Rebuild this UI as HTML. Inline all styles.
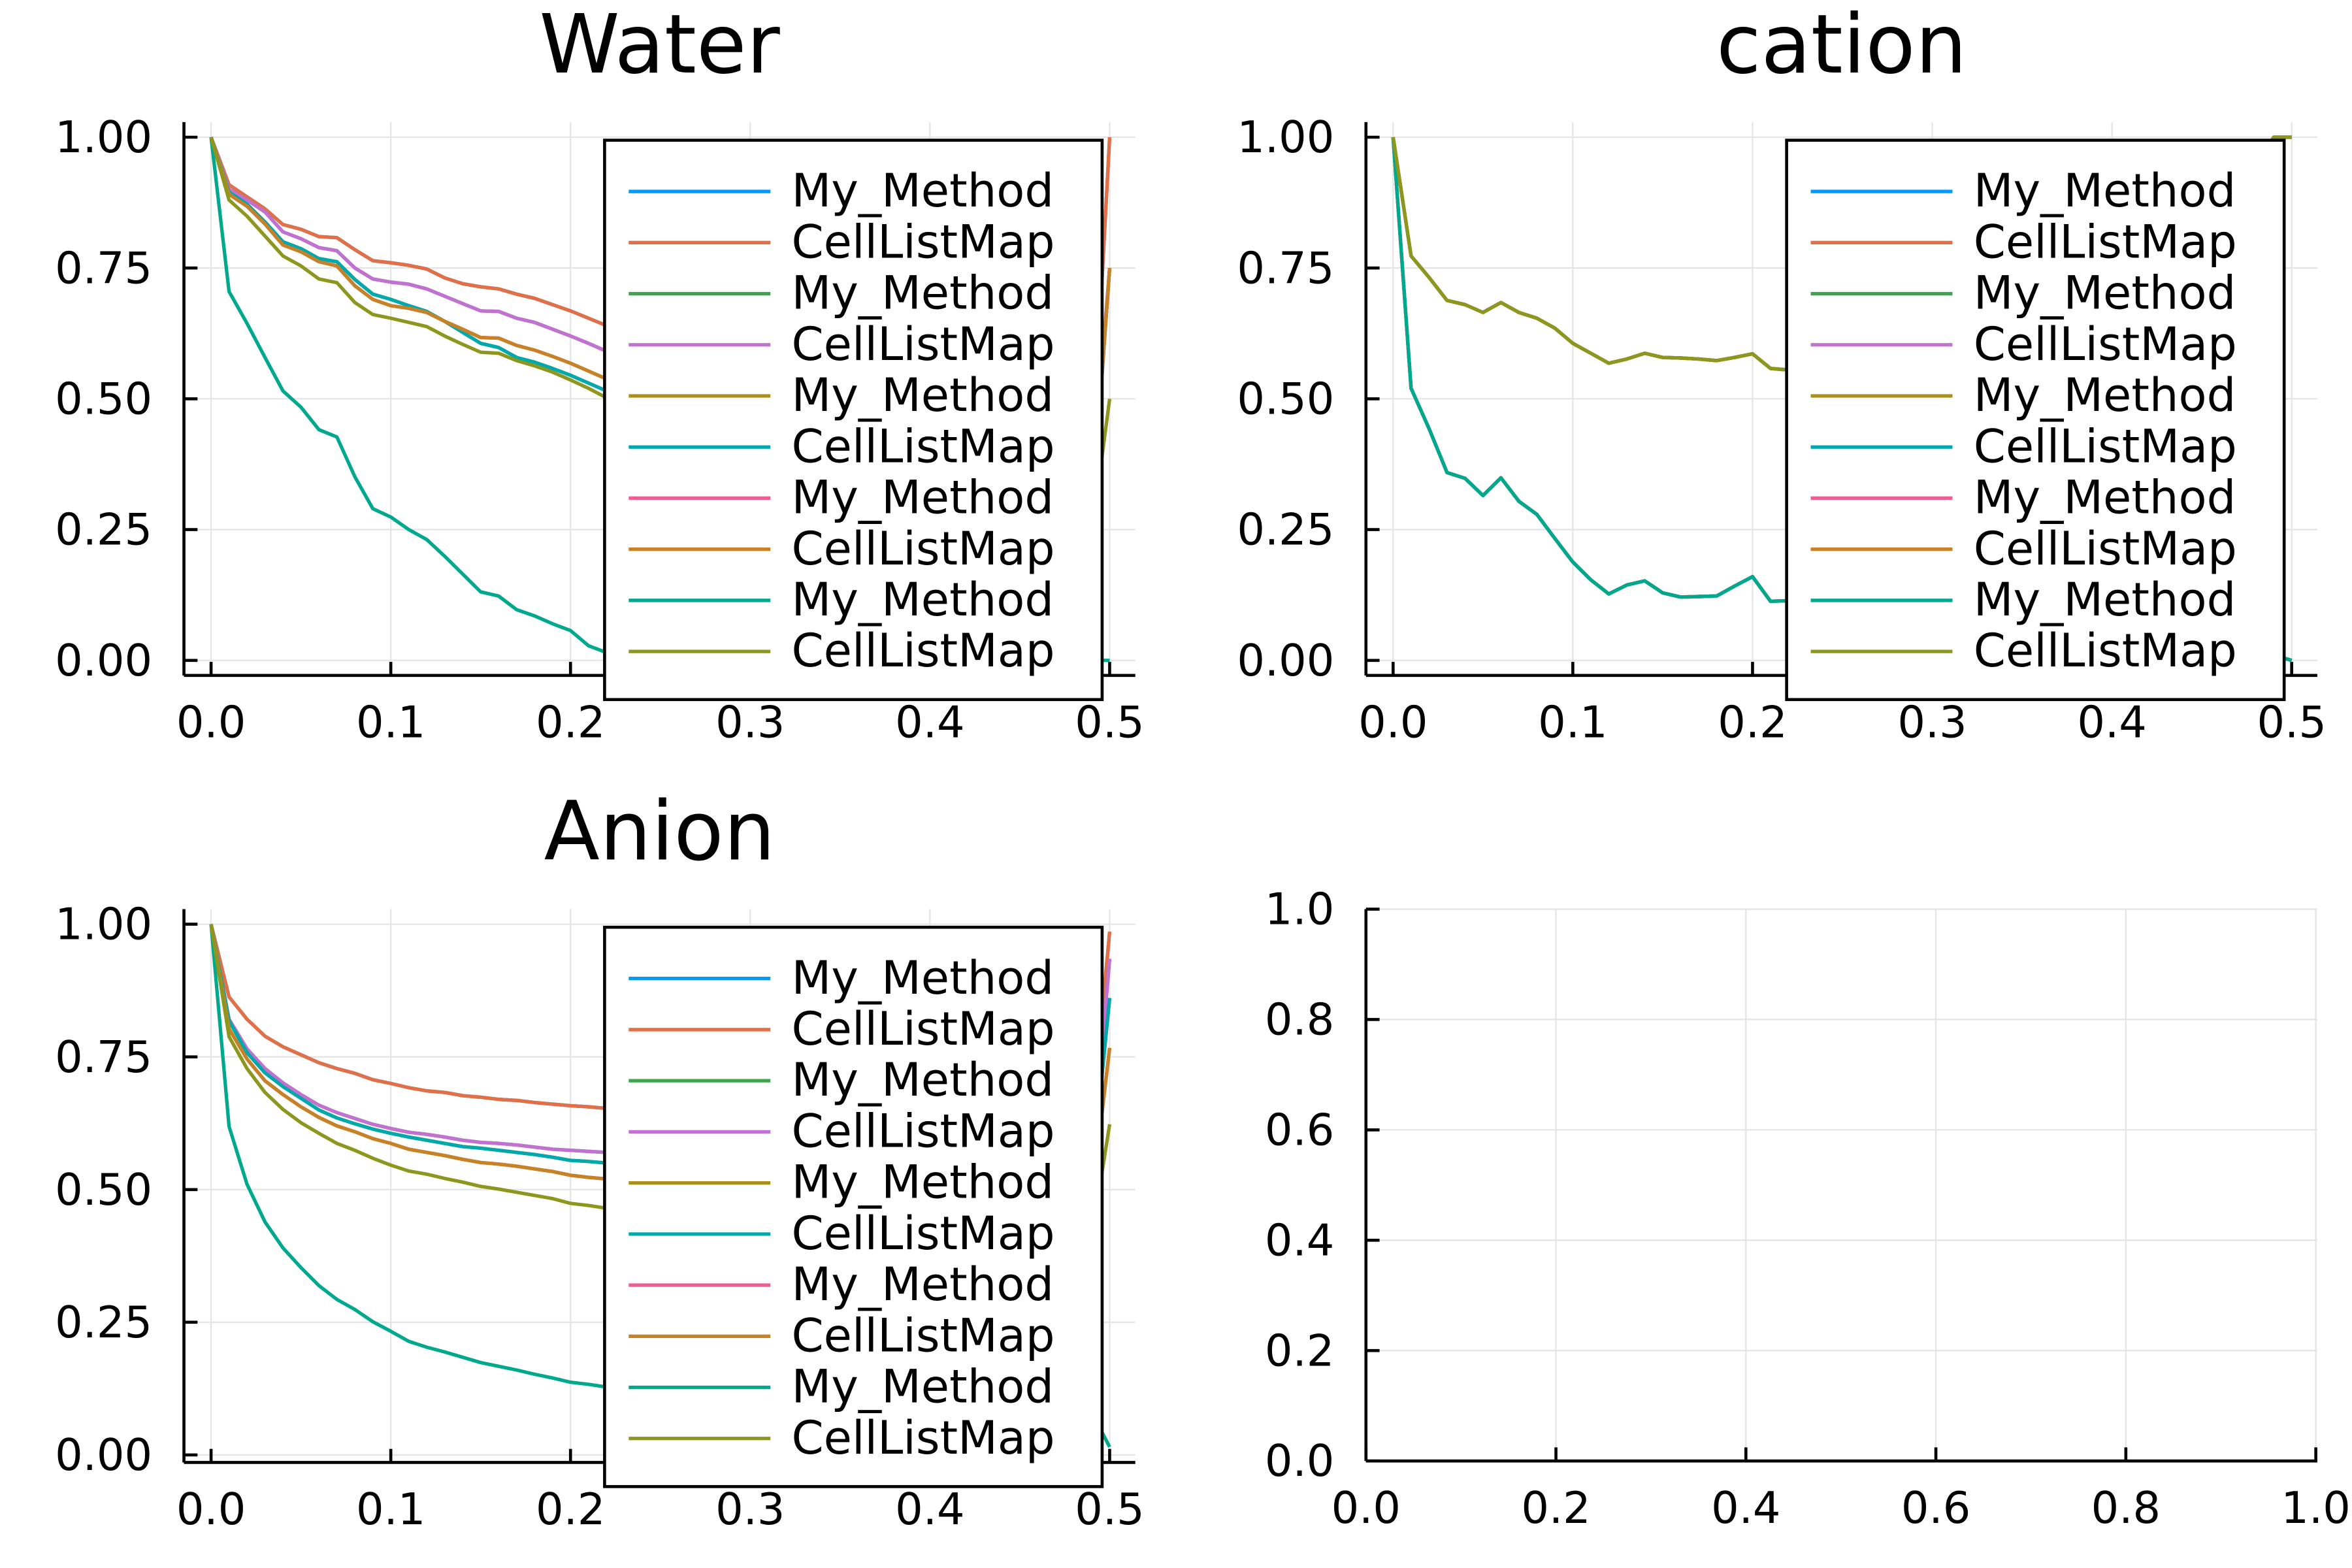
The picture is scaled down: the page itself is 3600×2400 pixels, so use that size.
<!DOCTYPE html>
<html><head><meta charset="utf-8">
<style>
html,body{margin:0;padding:0;background:#fff;}
svg{display:block;}
text{font-family:"DejaVu Sans","Liberation Sans",sans-serif;fill:#000;}
</style></head>
<body>
<svg id="fig" width="3600" height="2400" viewBox="0 0 1560 1040" xmlns="http://www.w3.org/2000/svg"></svg>
<script>
// ---- data ----
const xVals = [0,0.01,0.02,0.03,0.04,0.05,0.06,0.07,0.08,0.09,0.10,0.11,0.12,0.13,0.14,0.15,0.16,0.17,0.18,0.19,0.20,0.21,0.22,0.30,0.40,0.49,0.50];
const seriesNames = ["My_Method","CellListMap","My_Method","CellListMap","My_Method","CellListMap","My_Method","CellListMap","My_Method","CellListMap"];
const seriesColors = ["#009AFA","#E36F47","#3EA44E","#C271D2","#AC8E18","#00A9AD","#ED5E93","#C68225","#00A98D","#8E971D"];
const xTicks = [0,0.1,0.2,0.3,0.4,0.5];
const xTickLabels = ["0.0","0.1","0.2","0.3","0.4","0.5"];
const yTicks = [0,0.25,0.5,0.75,1.0];
const yTickLabels = ["0.00","0.25","0.50","0.75","1.00"];
const emptyTicks = [0,0.2,0.4,0.6,0.8,1.0];
const emptyTickLabels = ["0.0","0.2","0.4","0.6","0.8","1.0"];

const waterA = [1,0.909,0.886,0.863,0.833,0.824,0.81,0.808,0.785,0.764,0.76,0.755,0.748,0.731,0.72,0.714,0.71,0.70,0.692,0.68,0.668,0.654,0.64,0.56,0.45,0.36,1.0];
const waterB = [1,0.90,0.88,0.857,0.819,0.806,0.789,0.783,0.75,0.729,0.723,0.719,0.71,0.696,0.682,0.668,0.667,0.654,0.646,0.633,0.62,0.606,0.591,0.50,0.40,0.32,0.75];
const waterC = [1,0.895,0.872,0.838,0.80,0.787,0.768,0.762,0.728,0.70,0.69,0.678,0.667,0.648,0.627,0.606,0.598,0.579,0.57,0.558,0.545,0.53,0.515,0.43,0.34,0.27,0.75];
const waterD = [1,0.891,0.868,0.834,0.794,0.781,0.762,0.754,0.716,0.69,0.678,0.673,0.665,0.648,0.633,0.617,0.616,0.602,0.593,0.581,0.568,0.553,0.538,0.45,0.36,0.28,0.75];
const waterE = [1,0.705,0.644,0.579,0.515,0.484,0.441,0.427,0.351,0.29,0.274,0.25,0.231,0.199,0.165,0.131,0.123,0.097,0.085,0.07,0.057,0.028,0.015,0.005,0.0,0.0,0.0];
const waterF = [1,0.88,0.849,0.811,0.773,0.754,0.729,0.722,0.684,0.661,0.654,0.646,0.638,0.62,0.604,0.589,0.587,0.573,0.563,0.551,0.536,0.52,0.502,0.41,0.31,0.24,0.5];

const cationE = [1,0.52,0.443,0.359,0.348,0.315,0.349,0.304,0.279,0.233,0.188,0.154,0.127,0.144,0.152,0.129,0.121,0.122,0.123,0.142,0.16,0.113,0.114,0.08,0.04,0.01,0.0];
const cationF = [1,0.773,0.732,0.688,0.68,0.665,0.684,0.665,0.654,0.635,0.606,0.587,0.568,0.576,0.587,0.579,0.578,0.576,0.573,0.579,0.586,0.558,0.555,0.53,0.52,1.0,1.0];

const anionA = [1,0.863,0.821,0.789,0.769,0.754,0.739,0.728,0.719,0.707,0.70,0.692,0.686,0.683,0.677,0.674,0.67,0.668,0.664,0.661,0.658,0.656,0.653,0.64,0.63,0.62,0.986];
const anionB = [1,0.821,0.765,0.728,0.701,0.679,0.659,0.645,0.634,0.623,0.615,0.608,0.604,0.599,0.593,0.589,0.587,0.584,0.58,0.576,0.574,0.572,0.57,0.56,0.55,0.54,0.935];
const anionC = [1,0.818,0.758,0.72,0.694,0.672,0.65,0.635,0.624,0.614,0.606,0.599,0.593,0.587,0.581,0.578,0.574,0.57,0.566,0.561,0.555,0.553,0.55,0.54,0.53,0.52,0.861];
const anionD = [1,0.803,0.746,0.705,0.679,0.656,0.636,0.62,0.609,0.596,0.587,0.576,0.57,0.564,0.557,0.551,0.548,0.544,0.539,0.534,0.527,0.523,0.52,0.50,0.49,0.48,0.767];
const anionE = [1,0.619,0.51,0.439,0.39,0.353,0.319,0.293,0.274,0.251,0.233,0.214,0.203,0.194,0.184,0.174,0.167,0.16,0.152,0.145,0.137,0.133,0.128,0.11,0.09,0.08,0.015];
const anionF = [1,0.788,0.728,0.683,0.651,0.626,0.606,0.587,0.574,0.559,0.546,0.535,0.529,0.521,0.514,0.506,0.501,0.495,0.489,0.483,0.474,0.47,0.465,0.44,0.42,0.41,0.623];

const NS = "http://www.w3.org/2000/svg";
const svg = document.getElementById('fig');
function mk(tag, attrs, parent){
  const e = document.createElementNS(NS, tag);
  for (const k in attrs) e.setAttribute(k, attrs[k]);
  (parent||svg).appendChild(e);
  return e;
}

function panel(cfg){
  const g = mk('g', {});
  
  
  const sx = v => cfg.x0 + (v - cfg.xmin) / (cfg.xmax - cfg.xmin) * (cfg.x1 - cfg.x0);
  const sy = v => cfg.y0 + (v - cfg.ymin) / (cfg.ymax - cfg.ymin) * (cfg.y1 - cfg.y0);
  cfg.xt.forEach((t,i)=>{
    const l = mk('line',{x1:sx(t),x2:sx(t),y1:cfg.top,y2:cfg.bottom,stroke:'#e5e5e5','stroke-width':1},g);
    
    
  });
  cfg.yt.forEach((t,i)=>{
    const l = mk('line',{x1:cfg.left,x2:cfg.right,y1:sy(t),y2:sy(t),stroke:'#e5e5e5','stroke-width':1},g);
    
    
  });
  const ax = mk('line',{x1:cfg.left,x2:cfg.right,y1:cfg.bottom,y2:cfg.bottom,stroke:'#000','stroke-width':2},g);
  
  
  const ay = mk('line',{x1:cfg.left,x2:cfg.left,y1:cfg.top,y2:cfg.bottom,stroke:'#000','stroke-width':2},g);
  
  
  cfg.xt.forEach((t,i)=>{
    const tk = mk('line',{x1:sx(t),x2:sx(t),y1:cfg.bottom,y2:cfg.bottom-9,stroke:'#000','stroke-width':2},g);
    
    
    const tx = mk('text',{x:sx(t),y:cfg.bottom+41,'text-anchor':'middle','font-size':29},g);
    tx.textContent = cfg.xl[i];
    
    
  });
  cfg.yt.forEach((t,i)=>{
    const tk = mk('line',{x1:cfg.left,x2:cfg.left+9,y1:sy(t),y2:sy(t),stroke:'#000','stroke-width':2},g);
    
    
    const tx = mk('text',{x:cfg.left-21,y:sy(t)+10,'text-anchor':'end','font-size':29},g);
    tx.textContent = cfg.yl[i];
    
    
  });
  if (cfg.title){
    const tt = mk('text',{x:(cfg.left+cfg.right)/2,y:cfg.top-33,'text-anchor':'middle','font-size':54},g);
    tt.textContent = cfg.title;
    
    
  }
  if (cfg.series){
    cfg.series.forEach((ys,si)=>{
      let d = '';
      xVals.forEach((xv,i)=>{ d += (i?'L':'M') + sx(xv).toFixed(2) + ',' + sy(ys[i]).toFixed(2); });
      const p = mk('path',{d:d,fill:'none',stroke:seriesColors[si],'stroke-width':2.3,'stroke-linejoin':'round'},g);
      
      
    });
    const lg = mk('g',{},g);
    
    
    const lx = cfg.legX, ly = cfg.legY;
    mk('rect',{x:lx,y:ly,width:330,height:371,fill:'#fff',stroke:'#000','stroke-width':2},lg);
    seriesNames.forEach((nm,i)=>{
      const yy = ly + 34 + i*33.9;
      const e = mk('g',{},lg);
      
      
      mk('line',{x1:lx+16,x2:lx+110,y1:yy,y2:yy,stroke:seriesColors[i],'stroke-width':2.3},e);
      const t = mk('text',{x:lx+124,y:yy+10,'font-size':30.5},e);
      t.textContent = nm;
    });
  }
}

const dataWater = [waterA,waterA,waterB,waterB,waterC,waterC,waterD,waterD,waterE,waterF];
const dataCation = [cationE,cationF,cationE,cationF,cationE,cationF,cationE,cationF,cationE,cationF];
const dataAnion = [anionA,anionA,anionB,anionB,anionC,anionC,anionD,anionD,anionE,anionF];

panel({name:'water',title:'Water',xmin:0,xmax:0.5,x0:140,x1:736,ymin:0,ymax:1,y0:438,y1:91,
  left:122,right:753,top:81,bottom:448,xt:xTicks,xl:xTickLabels,yt:yTicks,yl:yTickLabels,series:dataWater,legX:401,legY:93});
panel({name:'cation',title:'cation',xmin:0,xmax:0.5,x0:924,x1:1520,ymin:0,ymax:1,y0:438,y1:91,
  left:906,right:1537,top:81,bottom:448,xt:xTicks,xl:xTickLabels,yt:yTicks,yl:yTickLabels,series:dataCation,legX:1185,legY:93});
panel({name:'anion',title:'Anion',xmin:0,xmax:0.5,x0:140,x1:736,ymin:0,ymax:1,y0:965,y1:613,
  left:122,right:753,top:603,bottom:970,xt:xTicks,xl:xTickLabels,yt:yTicks,yl:yTickLabels,series:dataAnion,legX:401,legY:615});
panel({name:'empty',title:null,xmin:0,xmax:1,x0:906,x1:1536,ymin:0,ymax:1,y0:969,y1:603,
  left:906,right:1537,top:603,bottom:969,xt:emptyTicks,xl:emptyTickLabels,yt:emptyTicks,yl:emptyTickLabels,series:null});
</script>
</body></html>
